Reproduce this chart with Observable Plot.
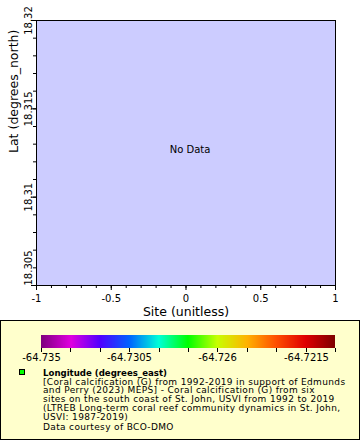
<!DOCTYPE html>
<html><head><meta charset="utf-8">
<script src="https://cdn.jsdelivr.net/npm/d3@7"></script>
<script src="https://cdn.jsdelivr.net/npm/@observablehq/plot@0.6"></script>
<style>
body{margin:0;background:#fff;}
#wrap{position:relative;width:360px;height:440px;overflow:hidden;font-family:"DejaVu Sans",sans-serif;}
#chart{position:absolute;left:0;top:0;}
#legend{position:absolute;left:0;top:320px;width:360px;height:120px;box-sizing:border-box;border:1px solid #000;background:#ffffcc;}
#ramp{position:absolute;left:0;top:320px;}
#swatch{position:absolute;left:19px;top:369px;width:6px;height:6px;box-sizing:border-box;border:1px solid #000;background:#00ff00;}
#ltext{position:absolute;left:43px;top:369px;font-size:9px;letter-spacing:0.35px;line-height:8.7px;white-space:nowrap;color:#000;}
#ltext b{font-weight:bold;font-size:8.6px;letter-spacing:0;}
#ltext .court{display:block;margin-top:2px;}
</style></head><body><div id="wrap"><div id="chart"></div><div id="legend"></div><div id="ramp"></div><div id="swatch"></div>
<div id="ltext"><b>Longitude (degrees_east)</b><br>[Coral calcification (G) from 1992-2019 in support of Edmunds<br>and Perry (2023) MEPS] - Coral calcification (G) from six<br>sites on the south coast of St. John, USVI from 1992 to 2019<br>(LTREB Long-term coral reef community dynamics in St. John,<br>USVI: 1987-2019)<span class="court">Data courtesy of BCO-DMO</span></div>
</div>
<script>
// ---- data (the dataset is empty: "No Data") ----
const site = [];
const lat = [];
const lon = [];

const xDomain = [-1, 1];
const yDomain = [18.305, 18.32];
const xMajorTicks = [-1, -0.5, 0, 0.5, 1];
const xMinorTicks = [-1, -0.9, -0.8, -0.7, -0.6, -0.5, -0.4, -0.3, -0.2, -0.1, 0, 0.1, 0.2, 0.3, 0.4, 0.5, 0.6, 0.7, 0.8, 0.9, 1];
const yMajorTicks = [18.305, 18.31, 18.315, 18.32];
const yMinorTicks = [18.305, 18.306, 18.307, 18.308, 18.309, 18.31, 18.311, 18.312, 18.313, 18.314, 18.315, 18.316, 18.317, 18.318, 18.319, 18.32];
const colorDomain = [-64.735, -64.72];
const colorTicks = [-64.735, -64.7335, -64.732, -64.7305, -64.729, -64.7275, -64.726, -64.7245, -64.723, -64.7215, -64.72];
const colorTickLabels = [-64.735, -64.7305, -64.726, -64.7215];
const colorStops = ["#800080", "#e000e0", "#5000ff", "#0064ff", "#00ffd8", "#00ff00", "#c8ff00", "#ffb400", "#ff5000", "#e00000", "#800000"];
const xLabel = "Site (unitless)";
const yLabel = "Lat (degrees_north)";
const noDataText = "No Data";

const rows = site.map((s, i) => ({site: s, lat: lat[i], lon: lon[i]}));
const interp = d3.piecewise(d3.interpolateRgb, colorStops);

const chart = Plot.plot({
  width: 360, height: 320,
  marginLeft: 36, marginRight: 25, marginTop: 20, marginBottom: 35,
  style: {fontFamily: "DejaVu Sans", fontSize: "10px", background: "white", color: "black"},
  x: {domain: xDomain},
  y: {domain: yDomain},
  color: {type: "linear", domain: colorDomain, interpolate: interp},
  marks: [
    Plot.frame({fill: "#ccccff", stroke: null}),
    Plot.dot(rows, {x: "site", y: "lat", fill: "lon", r: 3}),
    Plot.axisX({ticks: xMinorTicks, tickSize: 3, tickFormat: () => "", label: null}),
    Plot.axisX({ticks: xMajorTicks, tickSize: 5, tickPadding: 4, tickFormat: d => String(d), label: null, fontSize: 10}),
    Plot.axisY({ticks: yMinorTicks, tickSize: 3, tickFormat: () => "", label: null}),
    Plot.axisY({ticks: yMajorTicks, tickSize: 5, tickFormat: () => "", label: null}),
    Plot.text(yMajorTicks.filter(d => d !== yDomain[0]), {y: d => d, text: d => String(d), frameAnchor: "left", rotate: -90, dx: -8, textAnchor: "middle", lineAnchor: "middle", fontSize: 10}),
    Plot.text(yMajorTicks.filter(d => d === yDomain[0]), {y: d => d, text: d => String(d), frameAnchor: "left", rotate: -90, dx: -8, textAnchor: "start", lineAnchor: "middle", fontSize: 10}),
    Plot.text([xLabel], {frameAnchor: "bottom", dy: 26, lineAnchor: "middle", fontSize: 12.5}),
    Plot.text([yLabel], {frameAnchor: "left", rotate: -90, dx: -23, lineAnchor: "middle", fontSize: 12.5}),
    Plot.text(rows.length ? [] : [noDataText], {frameAnchor: "middle", dx: 4, dy: -3, fontSize: 10}),
    Plot.frame({stroke: "black", strokeWidth: 1})
  ]
});
document.getElementById("chart").append(chart);

const ramp = Plot.legend({
  color: {type: "linear", domain: colorDomain, interpolate: interp},
  width: 360, height: 45,
  marginTop: 15, marginBottom: 17, marginLeft: 41, marginRight: 25,
  tickSize: 4,
  ticks: colorTicks,
  tickFormat: d => colorTickLabels.includes(d) ? String(d) : "",
  label: null,
  style: {background: "none", fontFamily: "DejaVu Sans", fontSize: "10px", color: "black", overflow: "visible"}
});
ramp.querySelectorAll(".tick line").forEach(l => { l.setAttribute("y1", 0); l.setAttribute("stroke", "black"); });
ramp.querySelectorAll(".tick text").forEach(t => { t.setAttribute("y", 6); t.setAttribute("fill", "black"); });
document.getElementById("ramp").append(ramp);
</script></body></html>
